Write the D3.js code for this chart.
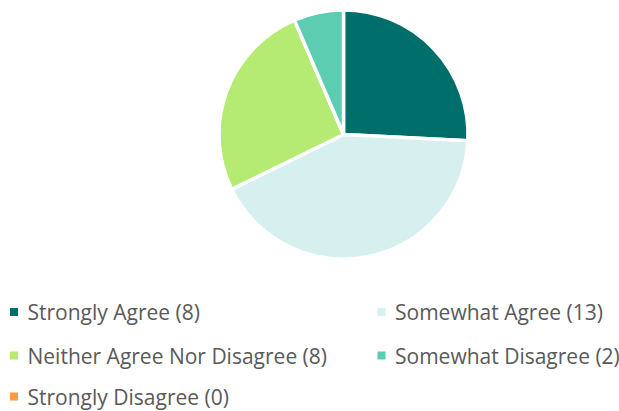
<!DOCTYPE html>
<html>
<head>
<meta charset="utf-8">
<script src="https://cdn.jsdelivr.net/npm/d3@7"></script>
<style>
  html, body { margin: 0; padding: 0; background: #fff; }
  svg { display: block; }
  .legend text { font-family: "Open Sans", Lato, sans-serif; fill: #595959; }
</style>
</head>
<body>
<svg id="chart" width="619" height="411"></svg>
<script>
// Survey responses
const categories = ["Strongly Agree", "Somewhat Agree", "Neither Agree Nor Disagree", "Somewhat Disagree", "Strongly Disagree"];
const counts = [8, 13, 8, 2, 0];
const colors = ["#006e6b", "#d5f0ee", "#b5eb72", "#5dcdb1", "#ff9a45"];

const svg = d3.select("#chart");

const cx = 343.5, cy = 134.5, radius = 124.5;

const pie = d3.pie().sort(null).value(d => d.value);
const arc = d3.arc().innerRadius(0).outerRadius(radius);

const data = categories.map((c, i) => ({ label: c, value: counts[i], color: colors[i] }));

svg.append("g")
  .attr("transform", `translate(${cx},${cy})`)
  .selectAll("path")
  .data(pie(data).filter(d => d.data.value > 0))
  .join("path")
  .attr("d", arc)
  .attr("fill", d => d.data.color)
  .attr("stroke", "#fff")
  .attr("stroke-width", 3.5)
  .attr("stroke-linejoin", "round");

// Legend: two columns, rows positioned by text baseline
const colX = [10, 377.5];
const rowBase = [320, 363.5, 404.5];
const fontSize = 21;

const legend = svg.append("g").attr("class", "legend");
const items = legend.selectAll("g")
  .data(data)
  .join("g")
  .attr("transform", (d, i) => `translate(${colX[i % 2]},${rowBase[Math.floor(i / 2)]})`);

items.append("rect")
  .attr("x", 0).attr("y", -12)
  .attr("width", 8).attr("height", 8)
  .attr("fill", d => d.color);

items.append("text")
  .attr("x", 17.5)
  .attr("y", 0)
  .style("font-size", fontSize + "px")
  .text(d => `${d.label} (${d.value})`);
</script>
</body>
</html>
